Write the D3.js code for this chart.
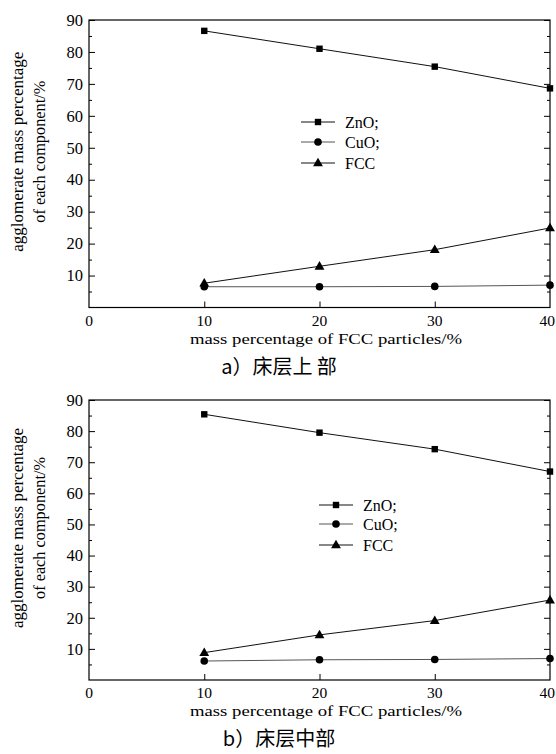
<!DOCTYPE html>
<html>
<head>
<meta charset="utf-8">
<script src="https://cdn.jsdelivr.net/npm/d3@7"></script>
<style>
  body { margin: 0; background: #fff; }
  svg { display: block; }
</style>
</head>
<body>
<div id="chart"></div>
<script>
// FCC mass fraction (x axis)
const fccShare = [10, 20, 30, 40];

// a) upper bed
const upperZnO = [86.6, 81.0, 75.4, 68.6];
const upperCuO = [6.5, 6.5, 6.6, 7.0];
const upperFCC = [7.6, 12.9, 18.1, 24.9];

// b) middle bed
const middleZnO = [85.4, 79.5, 74.2, 67.0];
const middleCuO = [6.1, 6.5, 6.6, 6.9];
const middleFCC = [8.8, 14.5, 19.1, 25.7];

const xTicks = [0, 10, 20, 30, 40];
const yTicks = [10, 20, 30, 40, 50, 60, 70, 80, 90];
const seriesNames = ['ZnO;', 'CuO;', 'FCC'];
const captions = ['a）床层上 部', 'b）床层中部'];
const xTitle = 'mass percentage of FCC particles/%';
const yTitle = ['agglomerate mass percentage', 'of each component/%'];

const width = 556, height = 754;
const serif = '"Liberation Serif", "Times New Roman", serif';

const svg = d3.select('#chart')
    .append('svg')
    .attr('width', width)
    .attr('height', height);

const panels = [
    { top: 20, bottom: 307.5, data: [upperZnO, upperCuO, upperFCC], caption: captions[0],
      legend: { x: 301, y: [122, 142, 163] } },
    { top: 400, bottom: 680, data: [middleZnO, middleCuO, middleFCC], caption: captions[1],
      legend: { x: 319, y: [505, 524, 545] } }
];

const lineColors = ['#111', '#555', '#111'];

function drawMarker(g, type, cx, cy) {
    if (type === 0) {
        g.append('rect')
            .attr('x', cx - 3.2).attr('y', cy - 3.2)
            .attr('width', 6.4).attr('height', 6.4)
            .attr('fill', '#000');
    } else if (type === 1) {
        g.append('circle')
            .attr('cx', cx).attr('cy', cy).attr('r', 3.8)
            .attr('fill', '#000');
    } else {
        g.append('path')
            .attr('d', d3.symbol().type(d3.symbolTriangle).size(42)())
            .attr('transform', `translate(${cx},${cy + 0.5})`)
            .attr('fill', '#000');
    }
}

panels.forEach(p => {
    const g = svg.append('g');

    const x = d3.scaleLinear().domain([0, 40]).range([89, 550]);
    const y = d3.scaleLinear().domain([0, 90]).range([p.bottom, p.top]);

    // frame
    g.append('rect')
        .attr('x', x(0)).attr('y', y(90))
        .attr('width', x(40) - x(0)).attr('height', y(0) - y(90))
        .attr('fill', 'none')
        .attr('stroke', '#000')
        .attr('stroke-width', 1.2);

    // left axis (ticks inward)
    const yAxis = d3.axisRight(y).tickValues(yTicks).tickSize(6).tickFormat('');
    g.append('g').attr('transform', `translate(${x(0)},0)`).call(yAxis)
        .call(a => a.select('.domain').remove());
    g.append('g').attr('transform', `translate(${x(0)},0)`)
        .call(d3.axisRight(y).tickValues(d3.range(5, 90, 10)).tickSize(3).tickFormat(''))
        .call(a => a.select('.domain').remove());

    // right axis (ticks inward)
    g.append('g').attr('transform', `translate(${x(40)},0)`)
        .call(d3.axisLeft(y).tickValues(yTicks).tickSize(6).tickFormat(''))
        .call(a => a.select('.domain').remove());
    g.append('g').attr('transform', `translate(${x(40)},0)`)
        .call(d3.axisLeft(y).tickValues(d3.range(5, 90, 10)).tickSize(3).tickFormat(''))
        .call(a => a.select('.domain').remove());

    // bottom axis ticks pointing up
    g.append('g').attr('transform', `translate(0,${y(0)})`)
        .call(d3.axisTop(x).tickValues([10, 20, 30]).tickSize(6).tickFormat(''))
        .call(a => a.select('.domain').remove());

    g.selectAll('.tick line').attr('stroke', '#000').attr('stroke-width', 1);

    // y tick labels
    g.selectAll('.ylab')
        .data(yTicks)
        .enter()
        .append('text')
        .attr('x', x(0) - 6)
        .attr('y', d => y(d))
        .attr('dy', '0.35em')
        .attr('text-anchor', 'end')
        .style('font-family', serif)
        .style('font-size', '16.5px')
        .text(d => d);

    // x tick labels (last one kept inside the page edge)
    g.selectAll('.xlab')
        .data(xTicks)
        .enter()
        .append('text')
        .attr('x', d => d === 40 ? width - 1 : x(d))
        .attr('y', y(0) + 18)
        .attr('text-anchor', d => d === 40 ? 'end' : 'middle')
        .style('font-family', serif)
        .style('font-size', '15.5px')
        .text(d => d);

    // x title
    g.append('text')
        .attr('x', 326)
        .attr('y', y(0) + 36)
        .attr('text-anchor', 'middle')
        .attr('textLength', 272)
        .attr('lengthAdjust', 'spacingAndGlyphs')
        .style('font-family', serif)
        .style('font-size', '15px')
        .text(xTitle);

    // y title, two lines
    const cy = (y(0) + y(90)) / 2 - 12;
    [[17, 200], [39, 142]].forEach((pos, i) => {
        g.append('text')
            .attr('transform', `translate(${pos[0]},${cy}) rotate(-90)`)
            .attr('dy', '0.35em')
            .attr('text-anchor', 'middle')
            .attr('textLength', pos[1])
            .attr('lengthAdjust', 'spacingAndGlyphs')
            .style('font-family', serif)
            .style('font-size', '16px')
            .text(yTitle[i]);
    });

    // series lines and markers
    p.data.forEach((vals, si) => {
        const pts = fccShare.map((f, i) => [x(f), y(vals[i])]);
        g.append('path')
            .attr('d', d3.line()(pts))
            .attr('fill', 'none')
            .attr('stroke', lineColors[si])
            .attr('stroke-width', 1);
        pts.forEach(pt => drawMarker(g, si, pt[0], pt[1]));
    });

    // legend
    seriesNames.forEach((name, i) => {
        const ly = p.legend.y[i];
        g.append('line')
            .attr('x1', p.legend.x).attr('x2', p.legend.x + 34)
            .attr('y1', ly).attr('y2', ly)
            .attr('stroke', lineColors[i])
            .attr('stroke-width', 1);
        drawMarker(g, i, p.legend.x + 17, ly);
        g.append('text')
            .attr('x', p.legend.x + 44)
            .attr('y', ly)
            .attr('dy', '0.35em')
            .style('font-family', serif)
            .style('font-size', '16px')
            .text(name);
    });

    // caption
    g.append('text')
        .attr('x', 279)
        .attr('y', y(0) + 66)
        .attr('text-anchor', 'middle')
        .style('font-family', '"Noto Sans CJK SC", sans-serif')
        .style('font-size', '20px')
        .text(p.caption);
});
</script>
</body>
</html>
